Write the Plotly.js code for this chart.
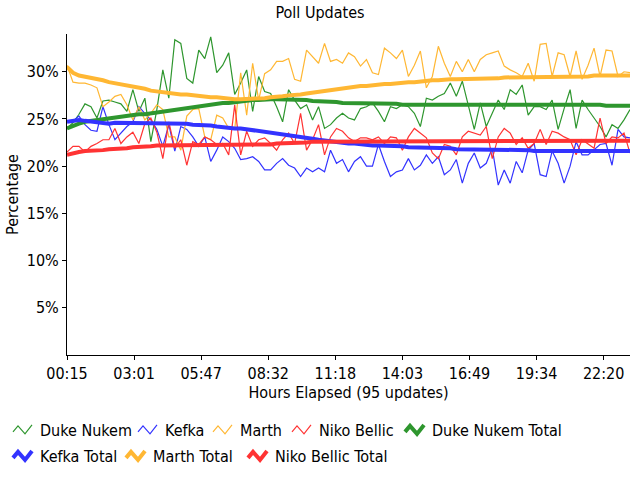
<!DOCTYPE html>
<html>
<head>
<meta charset="utf-8">
<script src="https://cdn.plot.ly/plotly-3.0.1.min.js"></script>
<style>html,body{margin:0;padding:0;background:#fff;}#chart{width:640px;height:480px;}</style>
</head>
<body>
<div id="chart"></div>
<script>
// x positions: update index 0..94
const updates = Array.from({length: 95}, (_, i) => i);
const tickLabels = ["00:15", "03:01", "05:47", "08:32", "11:18", "14:03", "16:49", "19:34", "22:20"];
const tickPositions = [0, 11.2, 22.4, 33.6, 44.8, 56.0, 67.2, 78.4, 89.6];
const yTickValues = [5, 10, 15, 20, 25, 30];
const yTickLabels = ["5%", "10%", "15%", "20%", "25%", "30%"];

const dukeNukem = [24.0, 24.6, 25.5, 26.6, 26.3, 25.1, 26.9, 27.0, 26.8, 26.6, 25.8, 28.1, 25.8, 27.2, 22.6, 26.0,
  30.2, 27.2, 33.4, 33.0, 29.3, 28.8, 32.3, 31.4, 33.7, 29.9, 30.7, 32.0, 27.6, 28.8, 30.2, 25.8,
  29.5, 27.9, 27.7, 26.3, 24.7, 28.1, 27.0, 26.1, 26.5, 24.9, 26.3, 24.0, 24.4, 25.1, 25.6, 25.1,
  24.9, 26.1, 26.3, 26.7, 25.8, 24.7, 26.3, 26.1, 26.5, 26.3, 25.6, 24.2, 27.2, 27.0, 27.4, 27.7,
  28.8, 27.4, 29.0, 26.3, 23.9, 26.7, 24.2, 25.6, 27.0, 26.0, 28.1, 27.6, 28.6, 25.4, 26.3, 26.3,
  26.0, 27.0, 23.9, 26.1, 28.1, 24.0, 27.0, 26.0, 25.1, 24.2, 23.1, 24.4, 24.0, 24.9, 26.0];

const kefka = [24.7, 24.8, 25.3, 24.4, 23.8, 23.7, 26.3, 24.4, 22.8, 23.5, 24.2, 24.7, 26.3, 25.6, 24.9, 23.9,
  22.1, 24.4, 21.6, 24.2, 23.9, 23.1, 22.1, 23.1, 20.5, 21.7, 23.1, 22.6, 21.9, 20.7, 20.8, 21.0,
  20.5, 19.6, 19.6, 20.3, 20.8, 20.1, 19.8, 18.9, 19.8, 19.4, 19.8, 19.4, 21.7, 20.3, 20.7, 19.4,
  20.5, 21.0, 20.0, 20.0, 22.3, 20.5, 18.9, 19.4, 19.6, 20.8, 19.6, 20.1, 21.2, 20.3, 21.0, 19.1,
  19.6, 20.7, 18.2, 20.3, 21.4, 19.8, 20.3, 21.9, 18.0, 19.6, 18.2, 20.5, 19.3, 21.7, 22.4, 19.1,
  18.9, 21.6, 20.3, 18.2, 20.0, 22.6, 21.2, 21.2, 21.7, 22.3, 22.4, 20.1, 23.9, 23.1, 23.0];

const marth = [30.7, 28.9, 28.8, 28.8, 28.6, 28.3, 26.3, 26.8, 27.4, 27.6, 26.5, 24.9, 26.3, 24.9, 25.6, 26.5,
  26.0, 23.1, 23.1, 21.7, 25.3, 26.0, 26.1, 23.1, 22.8, 25.4, 25.1, 24.0, 23.9, 29.9, 25.4, 30.9,
  27.0, 29.8, 30.2, 31.1, 31.1, 31.4, 29.2, 29.0, 32.3, 31.6, 30.9, 33.0, 31.1, 31.3, 30.9, 32.0,
  31.6, 30.6, 31.3, 29.9, 29.7, 32.5, 32.0, 31.4, 32.3, 29.5, 30.7, 32.2, 28.3, 29.5, 32.7, 30.9,
  29.5, 31.1, 30.0, 31.3, 30.0, 31.3, 31.8, 32.0, 32.2, 30.6, 30.2, 29.9, 29.5, 30.9, 29.0, 32.9,
  33.0, 29.5, 32.0, 31.8, 29.5, 32.2, 29.2, 30.7, 32.5, 29.5, 32.3, 32.2, 29.5, 30.0, 29.9];

const nikoBellic = [21.5, 22.1, 22.1, 21.5, 22.1, 22.4, 22.8, 22.8, 24.0, 22.4, 23.1, 23.6, 22.4, 24.5, 25.1, 23.6,
  20.8, 24.7, 21.9, 22.8, 20.1, 22.6, 22.3, 23.1, 22.8, 22.3, 22.4, 21.2, 26.5, 21.2, 23.7, 22.1,
  22.8, 23.0, 22.4, 21.7, 22.8, 23.5, 22.4, 25.6, 21.7, 22.8, 24.4, 21.2, 23.1, 24.0, 23.7, 23.0,
  22.6, 23.0, 23.0, 22.8, 23.1, 22.4, 23.1, 23.0, 21.7, 23.1, 24.0, 23.5, 23.0, 21.4, 20.8, 22.3,
  22.1, 21.2, 23.1, 23.7, 23.5, 23.3, 24.2, 20.8, 23.1, 24.0, 23.5, 22.3, 23.0, 21.9, 22.4, 23.9,
  22.3, 23.7, 23.5, 23.1, 22.8, 21.2, 22.8, 22.3, 21.9, 25.1, 22.4, 23.1, 23.0, 23.5, 21.4];

const dukeNukemTotal = [24.0, 24.3, 24.5, 24.7, 24.8, 24.9, 25.0, 25.1, 25.2, 25.2, 25.3, 25.4, 25.5, 25.5, 25.6, 25.7,
  25.8, 25.9, 26.0, 26.1, 26.2, 26.3, 26.3, 26.4, 26.5, 26.6, 26.7, 26.7, 26.8, 26.9, 26.9, 27.0,
  27.0, 27.1, 27.1, 27.1, 27.1, 27.1, 27.0, 27.0, 27.0, 26.9, 26.9, 26.8, 26.8, 26.8, 26.7, 26.7,
  26.7, 26.7, 26.6, 26.6, 26.6, 26.6, 26.6, 26.6, 26.5, 26.5, 26.5, 26.5, 26.5, 26.5, 26.6, 26.6,
  26.6, 26.6, 26.6, 26.6, 26.6, 26.6, 26.6, 26.6, 26.6, 26.5, 26.5, 26.5, 26.5, 26.6, 26.6, 26.6,
  26.6, 26.6, 26.6, 26.6, 26.6, 26.6, 26.5, 26.5, 26.5, 26.5, 26.4, 26.4, 26.4, 26.4, 26.4];

const kefkaTotal = [24.7, 24.8, 24.9, 24.8, 24.7, 24.6, 24.5, 24.5, 24.6, 24.6, 24.6, 24.6, 24.6, 24.6, 24.6, 24.6,
  24.6, 24.6, 24.5, 24.5, 24.5, 24.4, 24.4, 24.3, 24.3, 24.2, 24.1, 24.1, 24.0, 24.0, 23.9, 23.9,
  23.8, 23.7, 23.6, 23.5, 23.4, 23.3, 23.2, 23.1, 23.0, 22.9, 22.8, 22.7, 22.6, 22.6, 22.5, 22.4,
  22.4, 22.3, 22.3, 22.2, 22.2, 22.2, 22.1, 22.1, 22.1, 22.0, 22.0, 22.0, 21.9, 21.9, 21.9, 21.9,
  21.9, 21.8, 21.8, 21.8, 21.8, 21.8, 21.7, 21.7, 21.7, 21.7, 21.7, 21.7, 21.7, 21.7, 21.6, 21.6,
  21.6, 21.6, 21.6, 21.6, 21.6, 21.6, 21.6, 21.6, 21.6, 21.6, 21.6, 21.6, 21.6, 21.6, 21.6];

const marthTotal = [30.5, 29.9, 29.6, 29.5, 29.4, 29.3, 29.1, 28.9, 28.8, 28.7, 28.6, 28.4, 28.3, 28.2, 28.0, 27.9,
  27.8, 27.8, 27.7, 27.6, 27.6, 27.5, 27.4, 27.4, 27.3, 27.3, 27.2, 27.2, 27.1, 27.1, 27.1, 27.1,
  27.2, 27.2, 27.3, 27.3, 27.4, 27.5, 27.5, 27.6, 27.7, 27.8, 27.9, 28.0, 28.1, 28.2, 28.3, 28.4,
  28.4, 28.5, 28.5, 28.6, 28.6, 28.7, 28.7, 28.8, 28.8, 28.9, 28.9, 29.0, 29.0, 29.1, 29.1, 29.2,
  29.2, 29.2, 29.2, 29.3, 29.3, 29.3, 29.3, 29.3, 29.3, 29.4, 29.4, 29.4, 29.4, 29.4, 29.4, 29.5,
  29.5, 29.5, 29.5, 29.5, 29.5, 29.5, 29.5, 29.5, 29.6, 29.6, 29.6, 29.6, 29.6, 29.6, 29.6];

const nikoBellicTotal = [21.2, 21.4, 21.5, 21.6, 21.6, 21.7, 21.7, 21.8, 21.8, 21.9, 21.9, 22.0, 22.0, 22.1, 22.1, 22.2,
  22.2, 22.2, 22.2, 22.2, 22.2, 22.2, 22.2, 22.2, 22.2, 22.2, 22.2, 22.2, 22.2, 22.3, 22.3, 22.3,
  22.3, 22.3, 22.3, 22.4, 22.4, 22.4, 22.5, 22.5, 22.5, 22.6, 22.6, 22.6, 22.7, 22.7, 22.7, 22.7,
  22.7, 22.7, 22.7, 22.7, 22.7, 22.7, 22.7, 22.7, 22.7, 22.7, 22.7, 22.7, 22.7, 22.7, 22.7, 22.7,
  22.7, 22.7, 22.7, 22.7, 22.7, 22.7, 22.7, 22.7, 22.7, 22.7, 22.7, 22.7, 22.7, 22.7, 22.7, 22.7,
  22.7, 22.7, 22.7, 22.7, 22.7, 22.7, 22.7, 22.7, 22.7, 22.7, 22.7, 22.7, 22.7, 22.7, 22.7];

const seriesNames = ["Duke Nukem", "Kefka", "Marth", "Niko Bellic",
  "Duke Nukem Total", "Kefka Total", "Marth Total", "Niko Bellic Total"];
const seriesValues = [dukeNukem, kefka, marth, nikoBellic,
  dukeNukemTotal, kefkaTotal, marthTotal, nikoBellicTotal];
const colors = ["rgb(46,150,46)", "rgb(51,51,255)", "rgb(255,183,51)", "rgb(255,51,51)"];

// pick a narrow sans font that is installed, and a size matching the reference text widths
function pickFont() {
  const cands = ["Liberation Sans Narrow", "Arial Narrow", "Nimbus Sans Narrow", "DejaVu Sans Condensed", "Roboto Condensed", "Liberation Sans"];
  const ctx = document.createElement("canvas").getContext("2d");
  const probe = "Duke Nukem Total 00:15 30%";
  for (const f of cands) {
    ctx.font = "20px '" + f + "', monospace"; const w1 = ctx.measureText(probe).width;
    ctx.font = "20px '" + f + "', serif"; const w2 = ctx.measureText(probe).width;
    if (Math.abs(w1 - w2) < 0.01) {
      ctx.font = "20px '" + f + "'";
      const w = ctx.measureText("Duke Nukem").width;
      let size = 20 * 93 / w;
      size = Math.max(15, Math.min(21, size));
      return {family: "'" + f + "', 'Liberation Sans', Arial, sans-serif", size: Math.round(size * 2) / 2};
    }
  }
  return {family: "'Liberation Sans', Arial, sans-serif", size: 17};
}
const F = pickFont();

// one legend per entry so each entry sits where the reference puts it (two rows)
const legendIds = ["legend", "legend2", "legend3", "legend4", "legend5", "legend6", "legend7", "legend8"];
const legendTextX = [37, 165, 240, 319, 432, 37, 153, 275];   // px where each entry's text starts
const legendRowTop = [413, 413, 413, 413, 413, 439, 439, 439]; // px of each entry's top

const traces = seriesValues.map((vals, k) => ({
  type: "scatter",
  mode: "lines",
  name: seriesNames[k],
  x: updates,
  y: vals,
  legend: legendIds[k],
  line: {color: colors[k % 4], width: k < 4 ? 1.2 : 4},
  hoverinfo: "skip"
}));

const layout = {
  width: 640, height: 480,
  paper_bgcolor: "#fff", plot_bgcolor: "#fff",
  font: {family: F.family, size: F.size, color: "#000"},
  title: {text: "Poll Updates", x: 0.5, xref: "container", y: 0.975, yanchor: "middle",
          font: {family: F.family, size: F.size, color: "#000"}},
  margin: {l: 67, r: 10, t: 34, b: 125, pad: 0},
  showlegend: true,
  xaxis: {
    range: [0, 94], showgrid: false, zeroline: false,
    showline: true, linecolor: "#000", linewidth: 1,
    ticks: "outside", ticklen: 4, tickcolor: "#000",
    tickvals: tickPositions, ticktext: tickLabels,
    tickfont: {family: F.family, size: F.size},
    title: {text: "Hours Elapsed (95 updates)", font: {family: F.family, size: F.size}, standoff: 2}
  },
  yaxis: {
    range: [0, 34], showgrid: false, zeroline: false,
    showline: true, linecolor: "#000", linewidth: 1,
    ticks: "outside", ticklen: 4, tickcolor: "#000",
    tickvals: yTickValues, ticktext: yTickLabels,
    tickfont: {family: F.family, size: F.size},
    title: {text: "Percentage", font: {family: F.family, size: F.size}, standoff: 4}
  }
};
legendIds.forEach((id, k) => {
  layout[id] = {
    orientation: "h", xref: "container", yref: "container",
    xanchor: "left", yanchor: "top",
    x: Math.max(0, (legendTextX[k] - 40) / 640), y: 1 - legendRowTop[k] / 480,
    font: {family: F.family, size: F.size, color: "#000"},
    itemwidth: 30, bgcolor: "rgba(0,0,0,0)", borderwidth: 0
  };
});

Plotly.newPlot("chart", traces, layout, {staticPlot: true, displayModeBar: false}).then(gd => {
  // legend icons: short zigzag like the reference, kept clear of the previous entry's text
  gd.querySelectorAll(".legendlines path").forEach(p => p.setAttribute("d", "M13,2L18,-4L25,4L32,-5"));
});
</script>
</body>
</html>
